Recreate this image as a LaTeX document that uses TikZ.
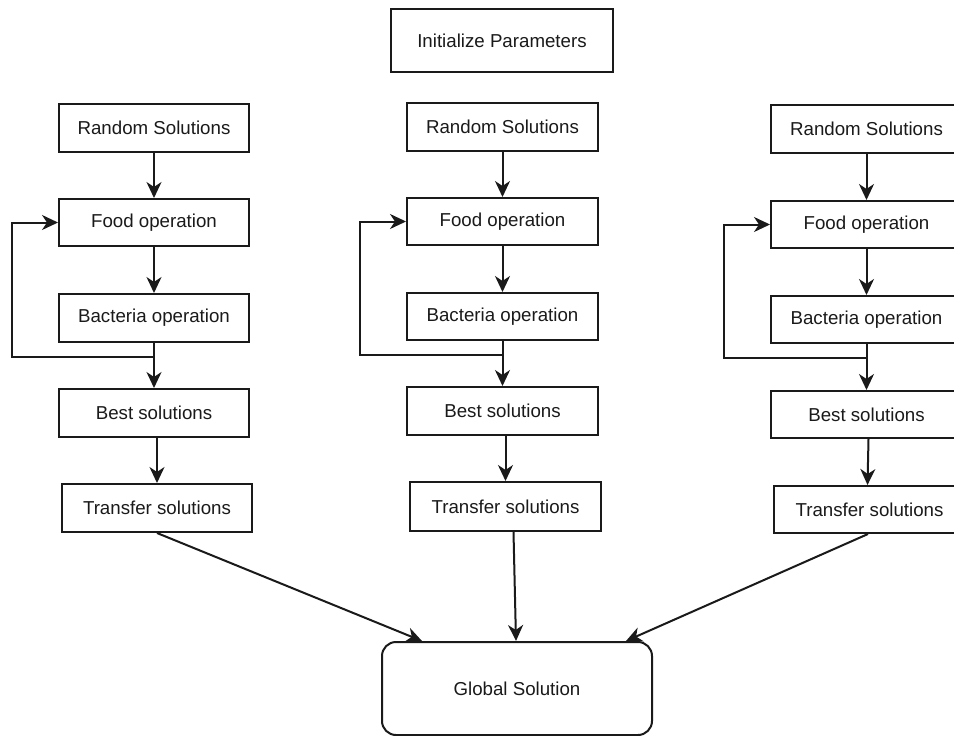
\documentclass[tikz,border=0pt]{standalone}
\usepackage{fontspec}
\setmainfont{Liberation Sans}
\usetikzlibrary{arrows.meta}
\definecolor{ink}{HTML}{1A1A1A}
\begin{document}
\begin{tikzpicture}[x=1pt,y=-1pt,
  every node/.style={font=\fontsize{18.7}{22}\selectfont, text=ink},
  stepbox/.style={draw=ink, line width=2pt, fill=white, minimum width=190pt, minimum height=48pt, inner sep=0pt, anchor=center},
  arr/.style={draw=ink, line width=2pt, -{Stealth[length=16pt,width=15pt,inset=5pt]}},
  ln/.style={draw=ink, line width=2pt}]
\useasboundingbox (0,0) rectangle (954,736);
\fill[white] (0,0) rectangle (954,736);
\clip (0,0) rectangle (954,736);

% top
\node[stepbox, minimum width=222pt, minimum height=63pt] (init) at (502,40.5) {Initialize Parameters};

% left column
\node[stepbox] (rs1) at (154,128) {Random Solutions};
\node[stepbox, minimum height=47pt] (fo1) at (154,222.5) {Food operation};
\node[stepbox] (ba1) at (154,318) {Bacteria operation};
\node[stepbox] (be1) at (154,413) {Best solutions};
\node[stepbox] (tr1) at (157,508) {Transfer solutions};

% middle column
\node[stepbox, minimum width=191pt] (rs2) at (502.5,126.5) {Random Solutions};
\node[stepbox, minimum width=191pt, minimum height=47pt] (fo2) at (502.5,221.5) {Food operation};
\node[stepbox, minimum width=191pt, minimum height=47pt] (ba2) at (502.5,316.5) {Bacteria operation};
\node[stepbox, minimum width=191pt] (be2) at (502.5,411) {Best solutions};
\node[stepbox, minimum width=191pt, minimum height=49pt] (tr2) at (505.5,506.5) {Transfer solutions};

% right column
\node[stepbox, minimum width=191pt] (rs3) at (866.5,129) {Random Solutions};
\node[stepbox, minimum width=191pt, minimum height=47pt] (fo3) at (866.5,224.5) {Food operation};
\node[stepbox, minimum width=191pt, minimum height=47pt] (ba3) at (866.5,319.5) {Bacteria operation};
\node[stepbox, minimum width=191pt, minimum height=47pt] (be3) at (866.5,414.5) {Best solutions};
\node[stepbox, minimum width=191pt, minimum height=47pt] (tr3) at (869.5,509.5) {Transfer solutions};

% global
\node[stepbox, rounded corners=14pt, minimum width=270pt, minimum height=93pt] (gs) at (517,688.5) {Global Solution};

% junction / loop coordinates
\coordinate (j1) at (154,357);
\coordinate (l1) at (12,357);
\coordinate (j2) at (502.5,355);
\coordinate (l2) at (360,355);
\coordinate (j3) at (866.5,358);
\coordinate (l3) at (724,358);
\coordinate (g1) at (422,641);
\coordinate (g2) at (516,641);
\coordinate (g3) at (626,641);

% left arrows
\draw[arr] (rs1.south) -- (fo1.north);
\draw[arr] (fo1.south) -- (ba1.north);
\draw[arr] (ba1.south) -- (be1.north);
\draw[arr] (j1) -- (l1) |- (fo1.west);
\draw[arr] (tr1.north |- be1.south) -- (tr1.north);
\draw[arr] (tr1.south) -- (g1);

% middle arrows
\draw[arr] (rs2.south) -- (fo2.north);
\draw[arr] (fo2.south) -- (ba2.north);
\draw[arr] (ba2.south) -- (be2.north);
\draw[arr] (j2) -- (l2) |- (fo2.west);
\draw[arr] (tr2.north |- be2.south) -- (tr2.north);
\draw[arr] ([xshift=8pt]tr2.south) -- (g2);

% right arrows
\draw[arr] (rs3.south) -- (fo3.north);
\draw[arr] (fo3.south) -- (ba3.north);
\draw[arr] (ba3.south) -- (be3.north);
\draw[arr] (j3) -- (l3) |- (fo3.west);
\draw[arr] ([xshift=2pt]be3.south) -- ([xshift=-2pt]tr3.north);
\draw[arr] ([xshift=-1.5pt]tr3.south) -- (g3);
\end{tikzpicture}
\end{document}
